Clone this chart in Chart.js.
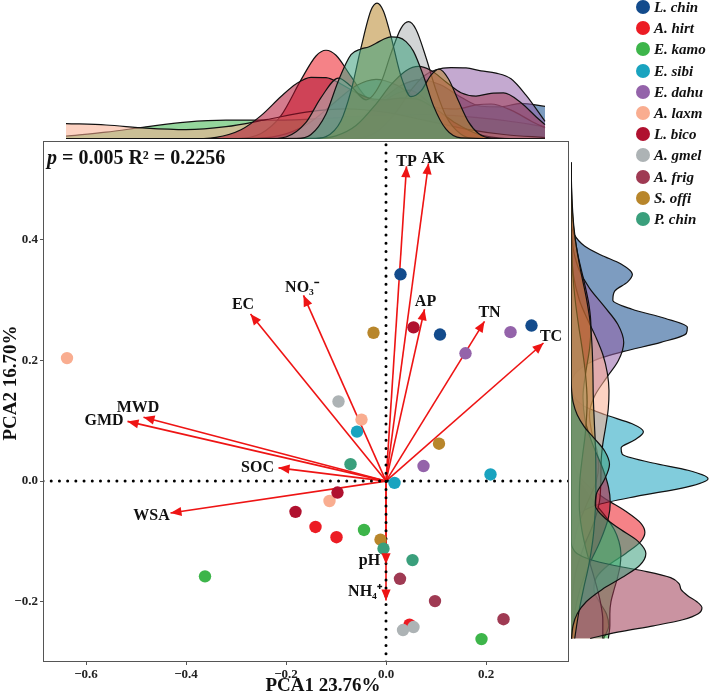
<!DOCTYPE html>
<html>
<head>
<meta charset="utf-8">
<script src="https://cdn.jsdelivr.net/npm/chart.js@4.4.1/dist/chart.umd.min.js"></script>
<style>
  html, body { margin: 0; padding: 0; background: #fff; }
  #wrap { position: relative; width: 709px; height: 700px; overflow: hidden; }
  canvas { position: absolute; }
  #legend { position: absolute; left: 0; top: 0; width: 709px; height: 240px; z-index: 5; pointer-events: none; }
  .item { position: absolute; font: italic bold 15px "Liberation Serif", "Times New Roman", serif; line-height: 16px; white-space: nowrap; color: #111; }
  .dot { position: absolute; width: 14px; height: 14px; border-radius: 50%; }
</style>
</head>
<body>
<div id="wrap">
  <canvas id="main" width="709" height="700" style="left:0;top:0"></canvas>
  <canvas id="top" width="709" height="141" style="left:0;top:0"></canvas>
  <canvas id="right" width="138" height="700" style="left:571px;top:0"></canvas>
  <div id="legend"></div>
</div>
<script>
// species and colours
const species = ["L. chin", "A. hirt", "E. kamo", "E. sibi", "E. dahu", "A. laxm",
                 "L. bico", "A. gmel", "A. frig", "S. offi", "P. chin"];
const colors = ["#134B8C", "#EC1C24", "#3DB54A", "#19A3BF", "#9463AA", "#F9AD90",
                "#B0112F", "#ADB3B5", "#9F3A53", "#B8862B", "#3A9F7C"];

// sample scores (PCA1, PCA2), 3 per species
const pc1 = [
  [0.029, 0.108, 0.291],
  [-0.141, -0.099, 0.047],
  [-0.362, -0.044, 0.191],
  [-0.058, 0.209, 0.017],
  [0.159, 0.249, 0.075],
  [-0.638, -0.049, -0.113],
  [0.055, -0.097, -0.181],
  [-0.095, 0.034, 0.055],
  [0.028, 0.098, 0.235],
  [-0.025, 0.106, -0.011],
  [-0.071, -0.005, 0.053]
];
const pc2 = [
  [0.343, 0.243, 0.258],
  [-0.076, -0.093, -0.238],
  [-0.158, -0.081, -0.262],
  [0.082, 0.011, -0.003],
  [0.212, 0.247, 0.025],
  [0.204, 0.102, -0.033],
  [0.255, -0.019, -0.051],
  [0.132, -0.247, -0.242],
  [-0.162, -0.199, -0.229],
  [0.246, 0.062, -0.097],
  [0.028, -0.112, -0.131]
];

// environmental vectors
const arrowNames = ["TP", "AK", "AP", "TN", "TC", "NO\u2083\u207B", "EC", "MWD", "GMD", "SOC", "WSA", "pH", "NH\u2084\u207A"];
const arrowPC1 = [0.041, 0.085, 0.077, 0.197, 0.315, -0.165, -0.271, -0.485, -0.517, -0.215, -0.431, 0, 0];
const arrowPC2 = [0.522, 0.527, 0.285, 0.265, 0.229, 0.308, 0.277, 0.106, 0.099, 0.022, -0.053, -0.138, -0.198];
const labelPC1 = [0.041, 0.094, 0.079, 0.207, 0.330, -0.168, -0.286, -0.496, -0.564, -0.257, -0.469, -0.033, -0.042];
const labelPC2 = [0.530, 0.534, 0.298, 0.279, 0.240, 0.320, 0.292, 0.122, 0.100, 0.022, -0.058, -0.133, -0.184];

// axes
const xRange = [-0.686, 0.366];
const yRange = [-0.300, 0.564];
const xTicks = [-0.6, -0.4, -0.2, 0, 0.2];
const xTickLabels = ["\u22120.6", "\u22120.4", "\u22120.2", "0.0", "0.2"];
const yTicks = [-0.2, 0, 0.2, 0.4];
const yTickLabels = ["\u22120.2", "0.0", "0.2", "0.4"];
const xTitle = "PCA1 23.76%";
const yTitle = "PCA2 16.70%";
const pValue = "0.005";
const r2Value = "0.2256";

// marginal densities along PCA1: [pc1, density]
const topDens = [
  [[-0.64,0],[-0.2,0.01],[-0.12,0.21],[-0.06,0.96],[0,2.32],[0.03,2.91],[0.07,3.23],[0.11,2.93],[0.15,2.27],[0.19,1.78],[0.23,1.75],[0.27,1.94],[0.318,1.77]],
  [[-0.64,0],[-0.30,0.02],[-0.25,0.30],[-0.21,1.27],[-0.17,3.21],[-0.14,4.51],[-0.12,4.82],[-0.10,4.55],[-0.07,3.40],[-0.04,2.29],[-0.01,2.05],[0.02,2.46],[0.047,2.66],[0.08,2.12],[0.11,1.22],[0.14,0.49],[0.17,0.14],[0.21,0.02],[0.318,0]],
  [[-0.64,0.155],[-0.56,0.37],[-0.48,0.66],[-0.40,0.915],[-0.32,1.02],[-0.24,1.02],[-0.16,1.07],[-0.08,1.19],[0,1.29],[0.08,1.32],[0.16,1.22],[0.24,0.99],[0.318,0.67]],
  [[-0.64,0],[-0.26,0.04],[-0.20,0.28],[-0.15,0.94],[-0.10,2.05],[-0.06,2.89],[-0.02,3.24],[0.02,2.94],[0.06,2.24],[0.10,1.71],[0.14,1.63],[0.18,1.85],[0.21,1.90],[0.25,1.57],[0.29,0.98],[0.318,0.60]],
  [[-0.64,0],[-0.06,0.04],[-0.02,0.36],[0.02,1.46],[0.05,2.65],[0.075,3.41],[0.10,3.76],[0.13,3.88],[0.16,3.86],[0.19,3.70],[0.22,3.58],[0.25,3.27],[0.28,2.38],[0.318,0.96]],
  [[-0.64,0.84],[-0.56,0.76],[-0.48,0.59],[-0.40,0.51],[-0.32,0.67],[-0.24,1.05],[-0.16,1.46],[-0.08,1.64],[0,1.45],[0.08,1.00],[0.16,0.54],[0.24,0.23],[0.318,0.08]],
  [[-0.64,0],[-0.40,0.005],[-0.34,0.09],[-0.29,0.50],[-0.25,1.27],[-0.21,2.31],[-0.18,2.99],[-0.15,3.35],[-0.12,3.33],[-0.09,2.99],[-0.06,2.52],[-0.03,2.19],[0,2.13],[0.03,2.22],[0.06,2.18],[0.10,1.62],[0.14,0.85],[0.18,0.30],[0.22,0.07],[0.26,0.01],[0.318,0]],
  [[-0.64,0],[-0.24,0.005],[-0.20,0.11],[-0.16,0.90],[-0.13,2.25],[-0.095,3.31],[-0.07,2.86],[-0.04,2.13],[-0.01,3.08],[0.01,4.65],[0.03,6.01],[0.045,6.37],[0.06,5.95],[0.08,4.43],[0.10,2.65],[0.12,1.24],[0.15,0.26],[0.18,0.02],[0.318,0]],
  [[-0.64,0],[-0.14,0.03],[-0.10,0.17],[-0.06,0.73],[-0.02,1.90],[0.01,2.95],[0.04,3.71],[0.065,3.94],[0.09,3.72],[0.12,3.10],[0.15,2.51],[0.18,2.33],[0.21,2.48],[0.235,2.50],[0.27,1.97],[0.30,1.21],[0.318,0.78]],
  [[-0.64,0],[-0.15,0.01],[-0.12,0.13],[-0.09,0.99],[-0.07,2.61],[-0.05,4.96],[-0.03,6.99],[-0.018,7.38],[-0.005,6.94],[0.01,5.56],[0.03,3.41],[0.05,2.30],[0.07,2.61],[0.09,3.47],[0.106,3.79],[0.125,3.26],[0.145,2.06],[0.165,0.93],[0.185,0.30],[0.21,0.05],[0.318,0]],
  [[-0.64,0],[-0.18,0.02],[-0.15,0.24],[-0.12,1.36],[-0.095,3.18],[-0.07,4.58],[-0.05,4.89],[-0.035,5.00],[-0.02,5.20],[-0.005,5.42],[0.01,5.55],[0.025,5.52],[0.04,5.29],[0.055,4.76],[0.075,3.42],[0.095,1.80],[0.12,0.53],[0.15,0.06],[0.318,0]]
];

// marginal densities along PCA2: [pc2, density]
const rightDens = [
  [[-0.261,0],[0.16,0.04],[0.18,0.40],[0.20,1.89],[0.215,4.26],[0.23,7.26],[0.245,9.32],[0.255,9.40],[0.27,7.58],[0.285,4.94],[0.30,3.38],[0.315,3.53],[0.33,4.56],[0.343,4.96],[0.36,4.04],[0.375,2.42],[0.39,1.09],[0.41,0.23],[0.43,0.03],[0.528,0]],
  [[-0.261,2.64],[-0.24,3.05],[-0.22,2.86],[-0.20,2.29],[-0.18,1.85],[-0.16,2.05],[-0.14,2.98],[-0.12,4.42],[-0.10,5.65],[-0.085,5.97],[-0.07,5.65],[-0.05,4.42],[-0.03,2.83],[-0.01,1.48],[0.01,0.63],[0.03,0.22],[0.05,0.06],[0.08,0.005],[0.528,0]],
  [[-0.261,3.02],[-0.24,3.14],[-0.22,3.14],[-0.20,3.23],[-0.18,3.48],[-0.16,3.76],[-0.14,3.97],[-0.12,4.03],[-0.10,3.87],[-0.08,3.48],[-0.06,2.85],[-0.04,2.06],[-0.02,1.30],[0,0.69],[0.02,0.32],[0.05,0.08],[0.08,0.01],[0.528,0]],
  [[-0.261,0],[-0.08,0.02],[-0.06,0.31],[-0.04,2.04],[-0.025,5.36],[-0.01,9.33],[0.004,11.07],[0.018,9.45],[0.03,6.61],[0.045,4.13],[0.055,4.05],[0.068,5.13],[0.082,5.85],[0.095,4.94],[0.11,2.77],[0.125,0.99],[0.14,0.23],[0.16,0.02],[0.528,0]],
  [[-0.261,0],[-0.16,0.02],[-0.12,0.12],[-0.08,0.47],[-0.04,1.23],[0,2.04],[0.025,2.24],[0.05,2.10],[0.08,1.69],[0.11,1.49],[0.14,1.88],[0.17,2.82],[0.20,3.83],[0.23,4.26],[0.26,3.78],[0.29,2.67],[0.32,1.49],[0.35,0.66],[0.38,0.23],[0.41,0.06],[0.44,0.01],[0.528,0]],
  [[-0.261,0],[-0.23,0.02],[-0.19,0.10],[-0.15,0.39],[-0.11,1.01],[-0.07,1.82],[-0.035,2.29],[0,2.41],[0.03,2.43],[0.06,2.56],[0.09,2.80],[0.12,3.01],[0.15,3.07],[0.18,2.93],[0.21,2.57],[0.24,1.98],[0.27,1.29],[0.30,0.68],[0.34,0.21],[0.38,0.05],[0.42,0.01],[0.528,0]],
  [[-0.261,0.08],[-0.22,0.28],[-0.18,0.72],[-0.14,1.44],[-0.10,2.35],[-0.06,3.03],[-0.035,3.17],[-0.01,3.03],[0.02,2.58],[0.06,1.77],[0.10,1.15],[0.14,0.97],[0.18,1.19],[0.22,1.50],[0.255,1.61],[0.29,1.47],[0.33,1.07],[0.37,0.61],[0.41,0.27],[0.45,0.10],[0.50,0.02],[0.528,0.01]],
  [[-0.261,2.57],[-0.23,2.57],[-0.20,2.37],[-0.16,1.87],[-0.12,1.30],[-0.08,0.87],[-0.04,0.67],[0,0.71],[0.04,0.92],[0.08,1.16],[0.132,1.30],[0.18,1.16],[0.22,0.90],[0.26,0.60],[0.30,0.34],[0.34,0.16],[0.38,0.07],[0.42,0.02],[0.47,0.005],[0.528,0]],
  [[-0.261,1.55],[-0.25,3.88],[-0.24,6.66],[-0.23,9.03],[-0.22,10.28],[-0.21,10.58],[-0.20,10.17],[-0.19,9.43],[-0.18,8.90],[-0.17,8.73],[-0.16,8.05],[-0.15,6.11],[-0.14,3.51],[-0.13,1.53],[-0.12,0.48],[-0.11,0.11],[-0.10,0.02],[0.528,0]],
  [[-0.261,0.30],[-0.22,0.61],[-0.18,1.00],[-0.14,1.43],[-0.10,1.75],[-0.06,1.93],[-0.02,2.01],[0.02,2.01],[0.06,1.97],[0.10,1.88],[0.14,1.80],[0.18,1.77],[0.22,1.71],[0.26,1.57],[0.30,1.27],[0.34,0.87],[0.38,0.50],[0.42,0.24],[0.46,0.10],[0.50,0.03],[0.528,0.01]],
  [[-0.261,0.04],[-0.24,0.16],[-0.22,0.50],[-0.20,1.23],[-0.18,2.49],[-0.16,4.12],[-0.14,5.54],[-0.12,6.05],[-0.10,5.42],[-0.08,3.99],[-0.06,2.67],[-0.04,1.96],[-0.02,2.07],[0,2.64],[0.028,3.11],[0.05,2.72],[0.07,1.92],[0.09,1.08],[0.11,0.50],[0.13,0.18],[0.15,0.05],[0.17,0.01],[0.528,0]]
];
const topDensMax = 7.55;
const rightDensMax = 11.15;

const SERIF = '"Liberation Serif", "Times New Roman", serif';
const ARROW_RED = "#EE1414";

function withAlpha(hex, a) {
  const n = parseInt(hex.slice(1), 16);
  return `rgba(${n >> 16},${(n >> 8) & 255},${n & 255},${a})`;
}

// legend (html)
const legendBox = document.getElementById("legend");
species.forEach((s, i) => {
  const cy = 7 + i * 21.2;
  const dot = document.createElement("div");
  dot.className = "dot";
  dot.style.left = "636px";
  dot.style.top = (cy - 7) + "px";
  dot.style.background = colors[i];
  legendBox.appendChild(dot);
  const lab = document.createElement("div");
  lab.className = "item";
  lab.style.left = "654px";
  lab.style.top = (cy - 8) + "px";
  lab.textContent = s;
  legendBox.appendChild(lab);
});

// ---- main biplot ----
const datasets = [];
// arrows (lines; heads drawn in plugin)
arrowNames.forEach((n, k) => {
  datasets.push({
    kind: "arrow",
    data: [{ x: 0, y: 0 }, { x: arrowPC1[k], y: arrowPC2[k] }],
    showLine: true,
    borderColor: ARROW_RED,
    borderWidth: 1.6,
    pointRadius: 0,
    order: 100
  });
});
// dotted zero lines
const dotted = { showLine: true, borderColor: "#000", borderWidth: 3, borderDash: [0.01, 8.2],
                 borderCapStyle: "round", pointRadius: 0, order: 50 };
datasets.push(Object.assign({ data: [{ x: 0, y: yRange[0] }, { x: 0, y: yRange[1] }] }, dotted));
datasets.push(Object.assign({ data: [{ x: xRange[0], y: 0 }, { x: xRange[1], y: 0 }] }, dotted));
// sample points
species.forEach((s, i) => {
  datasets.push({
    label: s,
    data: pc1[i].map((v, j) => ({ x: v, y: pc2[i][j] })),
    backgroundColor: colors[i],
    pointBackgroundColor: colors[i],
    pointBorderWidth: 0,
    pointRadius: 6.2,
    pointHoverRadius: 6.2,
    order: 20 - i
  });
});

const biplotExtras = {
  id: "biplotExtras",
  afterDatasetsDraw(chart) {
    const ctx = chart.ctx;
    const xs = chart.scales.x, ys = chart.scales.y;
    const area = chart.chartArea;
    ctx.save();
    // arrow heads
    chart.data.datasets.forEach((ds, i) => {
      if (ds.kind !== "arrow") return;
      const pts = chart.getDatasetMeta(i).data;
      const a = pts[0], b = pts[1];
      const ang = Math.atan2(b.y - a.y, b.x - a.x);
      const len = 11, half = 4.6;
      const bx = b.x - len * Math.cos(ang), by = b.y - len * Math.sin(ang);
      ctx.beginPath();
      ctx.moveTo(b.x, b.y);
      ctx.lineTo(bx - half * Math.sin(ang), by + half * Math.cos(ang));
      ctx.lineTo(bx + half * Math.sin(ang), by - half * Math.cos(ang));
      ctx.closePath();
      ctx.fillStyle = ARROW_RED;
      ctx.fill();
    });
    // vector labels
    ctx.fillStyle = "#111";
    ctx.font = "bold 16px " + SERIF;
    ctx.textAlign = "center";
    ctx.textBaseline = "middle";
    arrowNames.forEach((n, k) => {
      ctx.fillText(n, xs.getPixelForValue(labelPC1[k]), ys.getPixelForValue(labelPC2[k]));
    });
    // statistic text
    ctx.textAlign = "left";
    ctx.textBaseline = "alphabetic";
    ctx.font = "italic bold 20px " + SERIF;
    const x0 = area.left + 4;
    ctx.fillText("p", x0, 164);
    const pw = ctx.measureText("p").width;
    ctx.font = "bold 20px " + SERIF;
    ctx.fillText(" = " + pValue + " R\u00B2 = " + r2Value, x0 + pw, 164);
    // panel border
    ctx.strokeStyle = "#555";
    ctx.lineWidth = 1;
    ctx.strokeRect(area.left + 0.5, area.top + 0.5, area.right - area.left - 1, area.bottom - area.top - 1);
    // axis titles
    ctx.fillStyle = "#111";
    ctx.font = "bold 19px " + SERIF;
    ctx.textAlign = "center";
    ctx.fillText(xTitle, 323, 691);
    ctx.translate(16, 383);
    ctx.rotate(-Math.PI / 2);
    ctx.fillText(yTitle, 0, 0);
    ctx.restore();
  }
};

new Chart(document.getElementById("main"), {
  type: "scatter",
  data: { datasets },
  options: {
    responsive: false,
    animation: false,
    events: [],
    layout: { padding: { left: 0, right: 140, top: 141, bottom: 0 } },
    plugins: { legend: { display: false }, tooltip: { enabled: false } },
    scales: {
      x: {
        type: "linear", min: xRange[0], max: xRange[1],
        afterBuildTicks: s => { s.ticks = xTicks.map(v => ({ value: v })); },
        afterFit: s => { s.height = 38; },
        ticks: { callback: (v, i) => xTickLabels[i], font: { family: SERIF, size: 13, weight: "bold" }, color: "#222", padding: 2, maxRotation: 0, autoSkip: false },
        grid: { display: true, drawOnChartArea: false, drawTicks: true, tickLength: 3, color: "#555" },
        border: { display: false }
      },
      y: {
        type: "linear", min: yRange[0], max: yRange[1],
        afterBuildTicks: s => { s.ticks = yTicks.map(v => ({ value: v })); },
        afterFit: s => { s.width = 43; },
        ticks: { callback: (v, i) => yTickLabels[i], font: { family: SERIF, size: 13, weight: "bold" }, color: "#222", padding: 2, autoSkip: false },
        grid: { display: true, drawOnChartArea: false, drawTicks: true, tickLength: 3, color: "#555" },
        border: { display: false }
      }
    }
  },
  plugins: [biplotExtras]
});

// ---- marginal densities ----
function densitySets(list, horizontal) {
  return species.map((s, i) => ({
    label: s,
    data: list[i].map(p => horizontal ? { x: p[0], y: p[1] } : { x: p[1], y: p[0] }),
    borderColor: "#111",
    borderWidth: 1.2,
    backgroundColor: withAlpha(colors[i], 0.55),
    fill: "origin",
    pointRadius: 0,
    cubicInterpolationMode: "monotone",
    order: 20 - i
  }));
}

new Chart(document.getElementById("top"), {
  type: "line",
  data: { datasets: densitySets(topDens, true) },
  options: {
    responsive: false, animation: false, events: [],
    layout: { padding: { left: 43, right: 140, top: 0, bottom: 2 } },
    plugins: { legend: { display: false }, tooltip: { enabled: false } },
    scales: {
      x: { type: "linear", min: xRange[0], max: xRange[1], display: false },
      y: { type: "linear", min: 0, max: topDensMax, display: false }
    }
  }
});

new Chart(document.getElementById("right"), {
  type: "line",
  data: { datasets: densitySets(rightDens, false) },
  options: {
    indexAxis: "y",
    responsive: false, animation: false, events: [],
    layout: { padding: { left: 0, right: 0, top: 141, bottom: 38 } },
    plugins: { legend: { display: false }, tooltip: { enabled: false } },
    scales: {
      x: { type: "linear", min: 0, max: rightDensMax, display: false },
      y: { type: "linear", min: yRange[0], max: yRange[1], display: false }
    }
  }
});
</script>
</body>
</html>
